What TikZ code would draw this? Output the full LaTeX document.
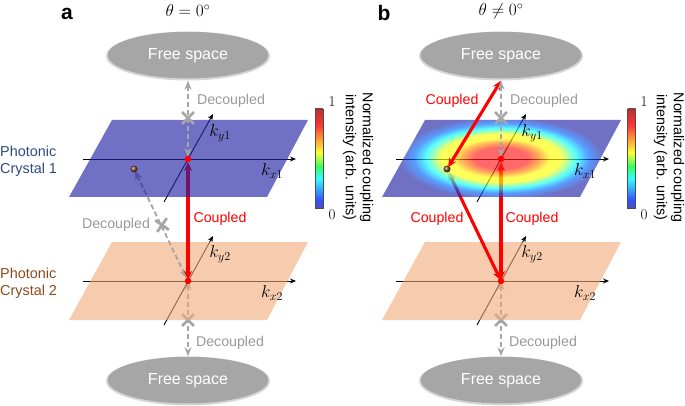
\documentclass[tikz,border=0pt]{standalone}
\usepackage{fontspec}
\setsansfont{Liberation Sans}
\usetikzlibrary{arrows.meta,%
                shapes.geometric,%
                shapes.misc}
\definecolor{plateblue}{HTML}{2323A4}
\definecolor{platepeach}{HTML}{F2A876}
\definecolor{greyline}{HTML}{A6A6A6}
\definecolor{greytext}{HTML}{999999}
\definecolor{navytext}{HTML}{2E4A7F}
\definecolor{browntext}{HTML}{8A4A1E}
\pgfdeclareradialshading{heatmap}{\pgfpoint{0bp}{0bp}}{%
  color(0bp)=(red!90!white); color(5.4bp)=(red!90!white); color(7.6bp)=(orange);
  color(9.8bp)=(yellow); color(12bp)=(yellow); color(15bp)=(cyan);
  color(17.5bp)=(blue!60!cyan); color(20.5bp)=(plateblue); color(50bp)=(plateblue)}
\pgfdeclareverticalshading{heatbar}{100bp}{%
  color(0bp)=(plateblue); color(25bp)=(plateblue); color(29bp)=(blue!85!cyan);
  color(40bp)=(cyan); color(46bp)=(green!80!cyan); color(53bp)=(yellow);
  color(60bp)=(orange); color(67bp)=(red); color(75bp)=(red!65!black); color(100bp)=(red!65!black)}
\tikzstyle{freespace}=[ellipse, fill=black!16, minimum width=164pt, minimum height=49pt, inner sep=0pt,
  text=white, font=\sffamily\fontsize{16}{18}\selectfont,
  path picture={\fill[greyline] ([yshift=0.9pt]path picture bounding box.center) ellipse (80.3pt and 23.3pt);}]
\tikzstyle{bluecrystal}=[fill=plateblue, opacity=0.65]
\tikzstyle{peachcrystal}=[fill=platepeach, opacity=0.6]
\tikzstyle{kaxis}=[black, line width=0.9pt, -{Stealth[length=6pt,width=5pt]}]
\tikzstyle{greyarrow}=[greyline, line width=1.9pt, dash pattern=on 5pt off 3pt,
  {Stealth[length=9pt,width=7pt]}-{Stealth[length=9pt,width=7pt]}]
\tikzstyle{redarrow}=[red, line width=3.1pt, {Stealth[length=9pt,width=8pt]}-{Stealth[length=9pt,width=8pt]}]
\tikzstyle{xmark}=[cross out, draw=greyline, line width=2.8pt, minimum size=9pt, inner sep=0pt]
\tikzstyle{reddot}=[circle, fill=red, inner sep=0pt, minimum size=6.5pt]
\tikzstyle{browndot}=[circle, shading=ball, ball color=browntext!90!black, inner sep=0pt, minimum size=7pt]
\tikzstyle{decoupled}=[text=greytext, font=\sffamily\fontsize{14.2}{16}\selectfont, inner sep=0pt]
\tikzstyle{coupled}=[text=red, font=\sffamily\fontsize{14.2}{16}\selectfont, inner sep=0pt]
\tikzstyle{crystalname}=[anchor=west, align=left, inner sep=0pt, font=\sffamily\fontsize{14.4}{17}\selectfont]
\tikzstyle{barname}=[rotate=-90, align=center, inner sep=0pt, font=\sffamily\fontsize{14.3}{17}\selectfont]
\tikzstyle{barnum}=[inner sep=0pt, font=\fontsize{15}{17}\selectfont]
\tikzstyle{keyname}=[inner sep=0pt, font=\fontsize{17}{19}\selectfont]
\tikzstyle{anglename}=[inner sep=0pt, font=\fontsize{17}{19}\selectfont]
\tikzstyle{panelname}=[inner sep=0pt, font=\sffamily\bfseries\fontsize{21}{23}\selectfont]
\tikzstyle{heatscale}=[shading=heatbar, opacity=0.8]
\tikzstyle{scaleframe}=[draw=black!70, line width=0.6pt]
\begin{document}
\begin{tikzpicture}[x=1pt,y=-1pt]
  \useasboundingbox (0,0) rectangle (685,406);
  % panel a
  \node[freespace] (fsta) at (188,56) {Free space};
  \node[freespace] (fsba) at (188,381) {Free space};
  \coordinate (onea) at (188,159);
  \coordinate (twoa) at (188,281);
  \coordinate (balla) at (134,169);

  \draw[greyarrow] (twoa) -- (fsba);
  \node[xmark] (xba) at (188,320) {};
  \coordinate (x2a) at (83,281);
  \coordinate (x2ea) at (296,281);
  \coordinate (y2a) at (164,325);
  \coordinate (y2ea) at (213,236);
  \draw[kaxis] (x2a) -- (x2ea);
  \draw[kaxis] (y2a) -- (y2ea);
  \fill[peachcrystal] (112,242) -- (308,242) -- (267,320) -- (69,320) -- cycle;

  \draw[greyarrow, shorten <=2pt, shorten >=3pt] (balla) -- (twoa);
  \node[xmark, rotate=10] (xma) at (162,225) {};
  \draw[redarrow, shorten <=3pt, shorten >=1pt] (onea) -- (twoa);
  \node[reddot] (dot2a) at (twoa) {};

  \coordinate (x1a) at (83,159);
  \coordinate (x1ea) at (296,159);
  \coordinate (y1a) at (164,202);
  \coordinate (y1ea) at (213,114);
  \draw[kaxis] (x1a) -- (x1ea);
  \draw[kaxis] (y1a) -- (y1ea);
  \fill[bluecrystal] (112,120) -- (308,120) -- (267,197) -- (69,197) -- cycle;
  \node[browndot] (dotba) at (balla) {};
  \draw[greyarrow, shorten >=2pt] (fsta) -- (onea);
  \node[xmark] (xta) at (188,118) {};
  \node[reddot] (dot1a) at (onea) {};

  \node[keyname] (ky1a) at (220,133) {$k_{y1}$};
  \node[keyname] (kx1a) at (272,171) {$k_{x1}$};
  \node[keyname] (ky2a) at (220,254) {$k_{y2}$};
  \node[keyname] (kx2a) at (272,293) {$k_{x2}$};
  \node[decoupled] at (231,101) {Decoupled};
  \node[decoupled] at (116,225) {Decoupled};
  \node[decoupled] at (230,343) {Decoupled};
  \node[coupled] at (220,219) {Coupled};
  \node[crystalname, text=navytext] at (0,161.5) {Photonic\\Crystal 1};
  \node[crystalname, text=browntext] at (0,283.5) {Photonic\\Crystal 2};
  \node[panelname] at (67,14) {a};
  \node[anglename] at (188,11) {$\theta=0^\circ$};
  \shade[heatscale] (315,109) rectangle (323,208);
  \draw[scaleframe] (315,109) rectangle (323,208);
  \node[barnum] at (332,102) {1};
  \node[barnum] at (332,215) {0};
  \node[barname] at (358,157.5) {Normalized coupling\\intensity (arb. units)};

  % panel b
  \node[freespace] (fstb) at (501,56) {Free space};
  \node[freespace] (fsbb) at (501,381) {Free space};
  \coordinate (oneb) at (501,159);
  \coordinate (twob) at (501,281);
  \coordinate (ballb) at (447,169);

  \draw[greyarrow] (twob) -- (fsbb);
  \node[xmark] (xbb) at (501,320) {};
  \coordinate (x2b) at (396,281);
  \coordinate (x2eb) at (609,281);
  \coordinate (y2b) at (477,325);
  \coordinate (y2eb) at (526,236);
  \draw[kaxis] (x2b) -- (x2eb);
  \draw[kaxis] (y2b) -- (y2eb);
  \fill[peachcrystal] (425,242) -- (621,242) -- (580,320) -- (382,320) -- cycle;

  \draw[redarrow, shorten <=3pt, shorten >=1pt] (oneb) -- (twob);
  \draw[red, line width=3.1pt, {Stealth[length=9pt,width=8pt,color=greyline]}-{Stealth[length=9pt,width=8pt]}, shorten <=3pt, shorten >=1pt] (ballb) -- (twob);
  \node[reddot] (dot2b) at (twob) {};

  \coordinate (x1b) at (396,159);
  \coordinate (x1eb) at (609,159);
  \coordinate (y1b) at (477,202);
  \coordinate (y1eb) at (526,114);
  \draw[kaxis] (x1b) -- (x1eb);
  \draw[kaxis] (y1b) -- (y1eb);
  \begin{scope}
    \clip (425,120) -- (621,120) -- (580,197) -- (382,197) -- cycle;
    \shade[shading=heatmap, opacity=0.65] (376,108) rectangle (626,208);
  \end{scope}
  \node[browndot] (dotbb) at (ballb) {};
  \draw[redarrow, shorten <=2pt] (ballb) -- (fstb.south);
  \draw[greyarrow, shorten >=2pt] (fstb) -- (oneb);
  \node[xmark] (xtb) at (501,118) {};
  \node[reddot] (dot1b) at (oneb) {};

  \node[keyname] (ky1b) at (532,133) {$k_{y1}$};
  \node[keyname] (kx1b) at (585,171) {$k_{x1}$};
  \node[keyname] (ky2b) at (532,254) {$k_{y2}$};
  \node[keyname] (kx2b) at (585,293) {$k_{x2}$};
  \node[decoupled] at (544,101) {Decoupled};
  \node[decoupled] at (543,343) {Decoupled};
  \node[coupled] at (452,101) {Coupled};
  \node[coupled] at (437,219) {Coupled};
  \node[coupled] at (532,219) {Coupled};
  \node[panelname] at (384,13) {b};
  \node[anglename] at (501,11) {$\theta\neq0^\circ$};
  \shade[heatscale] (627.5,109) rectangle (635.5,208);
  \draw[scaleframe] (627.5,109) rectangle (635.5,208);
  \node[barnum] at (644,102) {1};
  \node[barnum] at (644,215) {0};
  \node[barname] at (669,157.5) {Normalized coupling\\intensity (arb. units)};
\end{tikzpicture}
\end{document}
